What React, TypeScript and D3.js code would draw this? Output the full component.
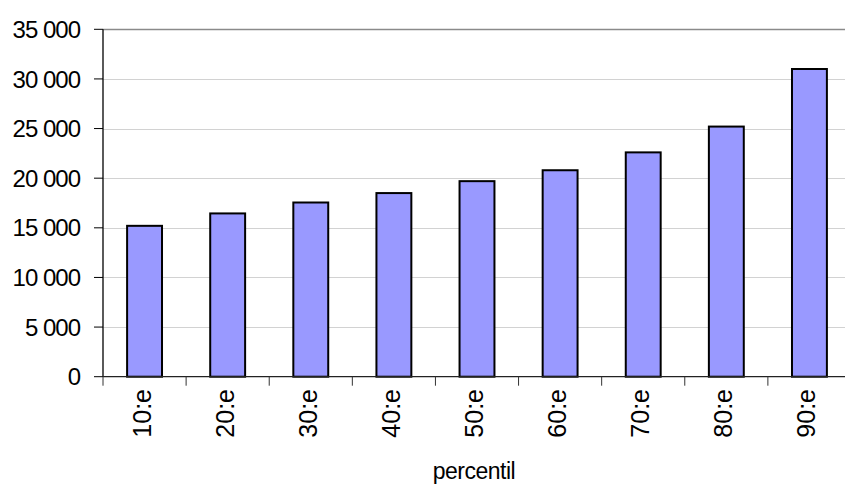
import React from "react";
import * as d3 from "d3";

const categories = ["10:e", "20:e", "30:e", "40:e", "50:e", "60:e", "70:e", "80:e", "90:e"];
const values = [15200, 16450, 17550, 18500, 19700, 20800, 22600, 25200, 31000];
const yTicks = [0, 5000, 10000, 15000, 20000, 25000, 30000, 35000];
const xTitle = "percentil";

const W = 845;
const H = 484;
const left = 103;
const right = 851;
const top = 29.3;
const bottom = 376.7;

const fmt = (v: number) => d3.format(",")(v).replace(/,/g, " ");

export default function App() {
  const x = d3.scaleBand<string>().domain(categories).range([left, right]).paddingInner(0.58).paddingOuter(0.29);
  const xb = d3.scaleBand<string>().domain(categories).range([left, right]);
  const y = d3.scaleLinear().domain([0, 35000]).range([bottom, top]);
  const font = "'Liberation Sans', Arial, sans-serif";
  return (
    <svg width={W} height={H} style={{ position: "absolute", left: 0, top: 0, background: "#fff" }}>
      {yTicks.filter((t) => t > 0).map((t) => (
        <line key={"g" + t} x1={left} x2={W} y1={Math.round(y(t)) + 0.5} y2={Math.round(y(t)) + 0.5}
          stroke={t === 35000 ? "#8a8a8a" : "#d2d2d2"} strokeWidth={t === 35000 ? 1.5 : 1} />
      ))}
      {categories.map((c, i) => (
        <rect key={c} x={x(c)} y={y(values[i])} width={x.bandwidth()} height={bottom - y(values[i])}
          fill="#9999ff" stroke="#000" strokeWidth={2} />
      ))}
      <line x1={left} x2={left} y1={top} y2={bottom} stroke="#000" strokeWidth={1.3} />
      <line x1={left} x2={W} y1={bottom} y2={bottom} stroke="#222" strokeWidth={1.3} />
      {yTicks.map((t) => (
        <g key={"t" + t}>
          <line x1={94} x2={left} y1={y(t)} y2={y(t)} stroke="#000" strokeWidth={1} />
          <text x={80} y={y(t)} dy="0.36em" textAnchor="end" fontFamily={font} fontSize={24} fill="#000"
            letterSpacing={-1}>{fmt(t)}</text>
        </g>
      ))}
      {categories.map((c, i) => (
        <g key={"x" + c}>
          <line x1={(xb(c) as number)} x2={(xb(c) as number)} y1={bottom} y2={bottom + 9} stroke="#333" strokeWidth={1} />
          <text transform={`translate(${(xb(c) as number) + xb.bandwidth() / 2 + 6},${389}) rotate(-90)`}
            textAnchor="end" fontFamily={font} fontSize={25} fill="#000">{c}</text>
        </g>
      ))}
      <text x={474} y={479} textAnchor="middle" fontFamily={font} fontSize={23} fill="#000" letterSpacing={-0.5}>{xTitle}</text>
    </svg>
  );
}
